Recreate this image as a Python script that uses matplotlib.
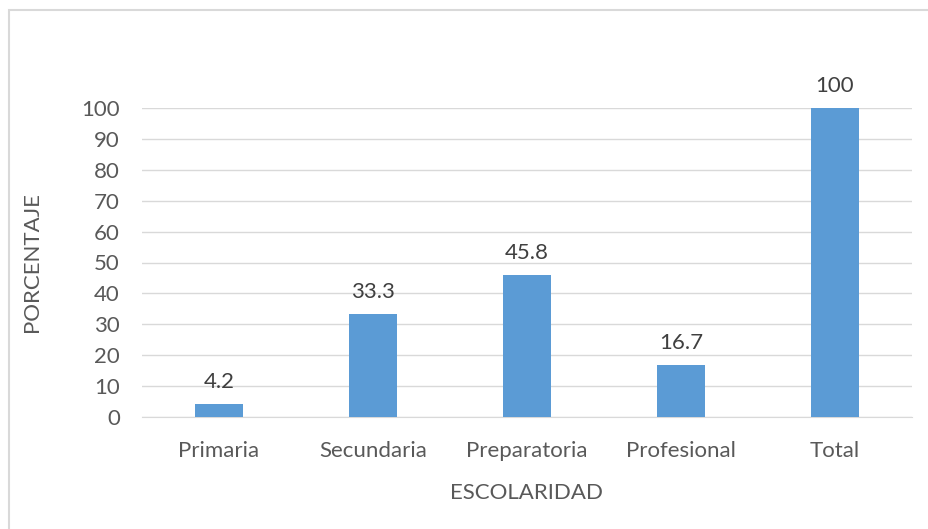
import matplotlib.pyplot as plt
from matplotlib.patches import Rectangle

categorias = ['Primaria', 'Secundaria', 'Preparatoria', 'Profesional', 'Total']
porcentajes = [4.2, 33.3, 45.8, 16.7, 100]
etiquetas = ['4.2', '33.3', '45.8', '16.7', '100']

plt.rcParams['font.family'] = ['Lato', 'DejaVu Sans']
gris = '#595959'
fs = 16

fig = plt.figure(figsize=(9.29, 5.29), dpi=100)
# marco del grafico (solo se ven los bordes superior e izquierdo)
fig.patches.append(Rectangle((9 / 929, -0.1), 1.2, 1 - 10 / 529 + 0.1, transform=fig.transFigure,
                             fill=False, edgecolor='#D9D9D9', linewidth=1.5))

ax = fig.add_axes([142 / 929, 1 - 417 / 529, (912 - 142) / 929, (417 - 108) / 529])
x = range(len(categorias))
bars = ax.bar(x, porcentajes, width=0.31, color='#5B9BD5', zorder=3)
for b, t in zip(bars, etiquetas):
    ax.text(b.get_x() + b.get_width() / 2, b.get_height() + 4, t, ha='center', va='bottom',
            fontsize=fs, color='#404040')

ax.set_xlim(-0.5, len(categorias) - 0.5)
ax.set_ylim(0, 100)
ax.set_yticks(range(0, 101, 10))
ax.set_xticks(list(x))
ax.set_xticklabels(categorias)
ax.tick_params(axis='both', length=0, labelsize=fs, labelcolor=gris)
ax.tick_params(axis='x', pad=17)
ax.tick_params(axis='y', pad=16)
ax.grid(axis='y', color='#D9D9D9', linewidth=1, zorder=0)
for s in ['top', 'right', 'left']:
    ax.spines[s].set_visible(False)
ax.spines['bottom'].set_color('#D9D9D9')
ax.set_xlabel('ESCOLARIDAD', fontsize=fs, color=gris, labelpad=16)
ax.set_ylabel('PORCENTAJE', fontsize=fs, color=gris, labelpad=28)

fig.savefig('out.png', dpi=100)
